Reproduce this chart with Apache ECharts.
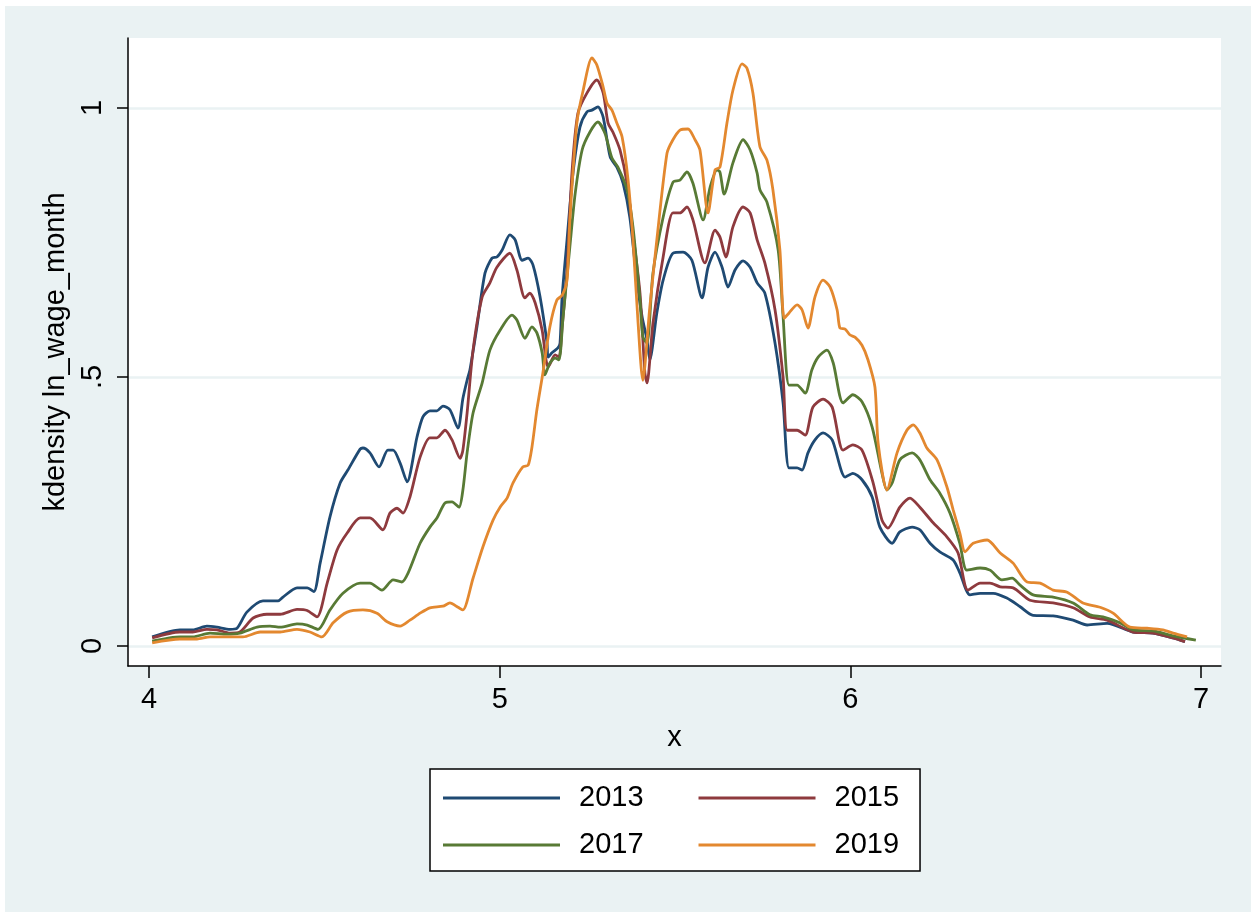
<!DOCTYPE html>
<html>
<head>
<meta charset="utf-8">
<script src="https://cdn.jsdelivr.net/npm/echarts@6/dist/echarts.min.js"></script>
<style>
  html, body { margin: 0; padding: 0; background: #ffffff; }
  #chart { position: absolute; left: 5px; top: 6px; width: 1246px; height: 906px; }
</style>
</head>
<body>
<div id="chart"></div>
<script>
// ---- data ----
const seriesNames = ['2013', '2015', '2017', '2019'];
const xTicks = [4, 5, 6, 7];
const yTicks = [0, 0.5, 1];
const yTickLabels = ['0', '.5', '1'];

const x2013 = [4.009,4.088,4.125,4.165,4.194,4.231,4.251,4.279,4.325,4.368,4.382,4.422,4.451,4.470,4.488,4.516,4.545,4.567,4.602,4.610,4.630,4.656,4.681,4.696,4.716,4.736,4.764,4.781,4.801,4.821,4.838,4.858,4.881,4.895,4.907,4.915,4.935,4.958,4.978,4.992,5.007,5.029,5.044,5.064,5.081,5.095,5.115,5.135,5.138,5.149,5.166,5.172,5.178,5.192,5.209,5.229,5.249,5.263,5.280,5.295,5.315,5.334,5.352,5.371,5.391,5.406,5.420,5.428,5.448,5.466,5.494,5.523,5.548,5.577,5.594,5.614,5.634,5.651,5.671,5.694,5.714,5.734,5.756,5.785,5.808,5.825,5.848,5.862,5.879,5.899,5.922,5.948,5.985,6.007,6.033,6.062,6.084,6.119,6.141,6.176,6.198,6.227,6.255,6.293,6.312,6.341,6.370,6.407,6.446,6.484,6.521,6.578,6.635,6.675,6.732,6.806,6.863,6.920,6.954];
const y2013 = [0.017,0.030,0.030,0.037,0.035,0.031,0.033,0.063,0.084,0.084,0.091,0.108,0.108,0.101,0.154,0.240,0.303,0.327,0.366,0.368,0.359,0.333,0.364,0.364,0.340,0.305,0.388,0.426,0.437,0.437,0.446,0.439,0.405,0.460,0.494,0.513,0.593,0.693,0.721,0.723,0.736,0.764,0.755,0.717,0.721,0.708,0.649,0.563,0.537,0.545,0.554,0.563,0.649,0.755,0.879,0.965,0.993,0.996,1.002,0.983,0.909,0.890,0.860,0.797,0.680,0.612,0.569,0.532,0.619,0.680,0.730,0.732,0.717,0.647,0.704,0.732,0.704,0.667,0.699,0.716,0.704,0.675,0.656,0.563,0.452,0.331,0.331,0.327,0.359,0.383,0.396,0.383,0.314,0.321,0.309,0.277,0.221,0.191,0.212,0.221,0.216,0.191,0.175,0.160,0.136,0.095,0.098,0.098,0.089,0.073,0.057,0.056,0.048,0.039,0.042,0.026,0.024,0.015,0.008];

const x2015 = [4.009,4.088,4.125,4.165,4.194,4.231,4.259,4.297,4.336,4.374,4.422,4.451,4.479,4.508,4.536,4.565,4.602,4.630,4.667,4.687,4.707,4.724,4.744,4.773,4.801,4.821,4.844,4.864,4.887,4.895,4.907,4.924,4.950,4.972,4.992,5.029,5.049,5.072,5.086,5.101,5.121,5.132,5.138,5.158,5.169,5.178,5.192,5.206,5.223,5.249,5.277,5.295,5.309,5.323,5.343,5.363,5.380,5.400,5.414,5.420,5.437,5.466,5.494,5.514,5.534,5.551,5.585,5.614,5.628,5.645,5.665,5.694,5.714,5.734,5.756,5.785,5.808,5.820,5.848,5.871,5.893,5.922,5.948,5.979,6.007,6.033,6.064,6.090,6.107,6.141,6.170,6.198,6.236,6.275,6.307,6.335,6.370,6.398,6.427,6.464,6.512,6.578,6.635,6.683,6.732,6.806,6.863,6.920,6.954];
const y2015 = [0.015,0.026,0.026,0.031,0.030,0.024,0.026,0.052,0.059,0.059,0.068,0.066,0.054,0.117,0.178,0.210,0.238,0.238,0.216,0.247,0.256,0.247,0.277,0.351,0.387,0.387,0.401,0.383,0.349,0.364,0.433,0.550,0.649,0.675,0.704,0.730,0.699,0.647,0.656,0.638,0.587,0.532,0.519,0.541,0.537,0.593,0.699,0.879,0.990,1.028,1.052,1.028,0.972,0.955,0.922,0.860,0.767,0.656,0.507,0.489,0.600,0.723,0.805,0.805,0.816,0.792,0.712,0.773,0.760,0.723,0.779,0.816,0.805,0.755,0.712,0.625,0.500,0.401,0.401,0.392,0.444,0.459,0.444,0.364,0.374,0.364,0.305,0.234,0.219,0.258,0.275,0.258,0.229,0.203,0.173,0.104,0.117,0.117,0.110,0.108,0.085,0.080,0.071,0.054,0.048,0.026,0.024,0.015,0.008];

const x2017 = [4.009,4.088,4.125,4.174,4.222,4.259,4.308,4.345,4.374,4.422,4.451,4.482,4.516,4.553,4.602,4.630,4.664,4.696,4.721,4.739,4.773,4.801,4.821,4.844,4.864,4.884,4.895,4.907,4.924,4.950,4.972,5.001,5.035,5.049,5.072,5.092,5.106,5.121,5.129,5.143,5.158,5.169,5.180,5.200,5.215,5.235,5.257,5.280,5.300,5.320,5.337,5.363,5.380,5.400,5.408,5.420,5.437,5.466,5.494,5.514,5.534,5.551,5.580,5.600,5.620,5.628,5.640,5.665,5.694,5.714,5.734,5.742,5.762,5.794,5.808,5.825,5.848,5.871,5.890,5.908,5.933,5.951,5.979,6.007,6.033,6.062,6.090,6.104,6.119,6.141,6.176,6.198,6.227,6.255,6.284,6.312,6.332,6.370,6.398,6.432,6.461,6.484,6.521,6.578,6.635,6.683,6.720,6.769,6.806,6.863,6.920,6.985];
const y2017 = [0.009,0.017,0.017,0.024,0.022,0.024,0.035,0.037,0.035,0.041,0.039,0.031,0.067,0.098,0.117,0.117,0.104,0.123,0.119,0.136,0.191,0.221,0.238,0.266,0.268,0.258,0.290,0.359,0.433,0.489,0.550,0.587,0.615,0.606,0.572,0.593,0.582,0.545,0.504,0.526,0.535,0.532,0.606,0.742,0.840,0.922,0.955,0.974,0.953,0.907,0.890,0.848,0.779,0.643,0.575,0.563,0.693,0.797,0.862,0.866,0.881,0.860,0.792,0.853,0.885,0.881,0.840,0.898,0.941,0.922,0.879,0.848,0.825,0.736,0.612,0.485,0.485,0.470,0.513,0.537,0.550,0.526,0.452,0.467,0.454,0.407,0.321,0.290,0.303,0.346,0.359,0.346,0.309,0.284,0.247,0.191,0.141,0.145,0.141,0.123,0.126,0.113,0.095,0.091,0.080,0.058,0.054,0.043,0.030,0.028,0.019,0.011];

const x2019 = [4.009,4.088,4.137,4.174,4.231,4.268,4.317,4.374,4.422,4.459,4.493,4.525,4.565,4.610,4.650,4.679,4.716,4.744,4.773,4.801,4.838,4.858,4.881,4.895,4.924,4.952,4.981,5.001,5.021,5.038,5.066,5.081,5.092,5.106,5.123,5.143,5.163,5.178,5.192,5.200,5.220,5.238,5.263,5.277,5.295,5.306,5.320,5.334,5.349,5.366,5.380,5.394,5.408,5.428,5.448,5.477,5.494,5.514,5.537,5.557,5.571,5.594,5.614,5.628,5.648,5.665,5.691,5.705,5.722,5.742,5.762,5.779,5.799,5.811,5.825,5.848,5.862,5.879,5.899,5.922,5.942,5.962,5.970,5.985,5.999,6.013,6.033,6.050,6.070,6.079,6.104,6.133,6.161,6.179,6.198,6.218,6.247,6.275,6.293,6.312,6.327,6.350,6.390,6.427,6.464,6.504,6.541,6.578,6.618,6.663,6.712,6.749,6.797,6.846,6.891,6.920,6.960];
const y2019 = [0.006,0.013,0.013,0.017,0.017,0.017,0.026,0.026,0.031,0.026,0.017,0.043,0.063,0.067,0.061,0.045,0.037,0.048,0.061,0.071,0.074,0.080,0.072,0.067,0.126,0.184,0.234,0.258,0.275,0.303,0.333,0.336,0.370,0.439,0.507,0.593,0.643,0.652,0.680,0.792,0.972,1.033,1.093,1.080,1.039,1.009,0.996,0.972,0.946,0.866,0.755,0.606,0.494,0.630,0.755,0.916,0.941,0.959,0.961,0.941,0.922,0.805,0.885,0.890,0.972,1.033,1.082,1.074,1.028,0.928,0.903,0.848,0.736,0.609,0.619,0.634,0.625,0.591,0.649,0.680,0.667,0.625,0.591,0.589,0.578,0.574,0.559,0.532,0.481,0.377,0.290,0.359,0.401,0.411,0.396,0.368,0.346,0.296,0.253,0.210,0.175,0.191,0.197,0.173,0.154,0.119,0.117,0.104,0.100,0.080,0.072,0.061,0.035,0.033,0.030,0.024,0.017];

// ---- build ----
const colors = ['#1f4a73', '#8e3a3e', '#587a35', '#e3882f'];
const xs = [x2013, x2015, x2017, x2019];
const ys = [y2013, y2015, y2017, y2019];
const zip = (a, b) => a.map((v, i) => [v, b[i]]);

const FONT = "'Liberation Sans', Arial, Helvetica, sans-serif";
const chart = echarts.init(document.getElementById('chart'), null, { renderer: 'canvas' });

const series = seriesNames.map((name, i) => ({
  name: name,
  type: 'line',
  data: zip(xs[i], ys[i]),
  symbol: 'none',
  smooth: 0.25,
  lineStyle: { color: colors[i], width: 2.8 },
  itemStyle: { color: colors[i] },
  emphasis: { disabled: true },
  animation: false
}));

const legendCommon = {
  orient: 'horizontal',
  icon: 'rect',
  itemWidth: 117,
  itemHeight: 3,
  itemGap: 55,
  selectedMode: false,
  textStyle: { fontFamily: FONT, fontSize: 29, color: '#000', lineHeight: 32, padding: [0, 0, 0, 14] }
};

chart.setOption({
  backgroundColor: '#EAF2F3',
  animation: false,
  color: colors,
  grid: {
    left: 123, right: 30, top: 32, bottom: 246,
    show: true, backgroundColor: '#ffffff', borderWidth: 0,
    containLabel: false, outerBoundsMode: 'none'
  },
  xAxis: {
    type: 'value',
    min: 3.9401, max: 7.0567,
    name: 'x', nameLocation: 'middle', nameGap: 57,
    nameTextStyle: { fontFamily: FONT, fontSize: 29, color: '#000' },
    axisLine: { onZero: false, lineStyle: { color: '#000', width: 1.5 } },
    axisTick: { customValues: xTicks, length: 12, lineStyle: { color: '#000', width: 1.5 } },
    axisLabel: { customValues: xTicks, margin: 19, fontFamily: FONT, fontSize: 29, color: '#000' },
    splitLine: { show: false }
  },
  yAxis: {
    type: 'value',
    min: -0.03717, max: 1.1301,
    name: 'kdensity ln_wage_month', nameLocation: 'middle', nameGap: 54,
    nameTextStyle: { fontFamily: FONT, fontSize: 29, color: '#000' },
    axisLine: { show: true, onZero: false, lineStyle: { color: '#000', width: 1.5 } },
    axisTick: { show: true, customValues: yTicks, length: 11, lineStyle: { color: '#000', width: 1.5 } },
    axisLabel: {
      customValues: yTicks, rotate: 90, margin: 21,
      fontFamily: FONT, fontSize: 29, color: '#000',
      formatter: v => yTickLabels[yTicks.indexOf(v)] ?? String(v)
    },
    splitLine: { show: true, lineStyle: { color: '#EAF2F3', width: 2.5 } }
  },
  legend: [
    Object.assign({}, legendCommon, {
      data: [seriesNames[0], seriesNames[1]],
      left: 425, top: 763,
      padding: [13, 21, 57, 13],
      backgroundColor: '#ffffff',
      borderColor: '#000', borderWidth: 1.5, borderRadius: 0
    }),
    Object.assign({}, legendCommon, {
      data: [seriesNames[2], seriesNames[3]],
      left: 438, top: 823,
      padding: 0
    })
  ],
  series: series
});
</script>
</body>
</html>
